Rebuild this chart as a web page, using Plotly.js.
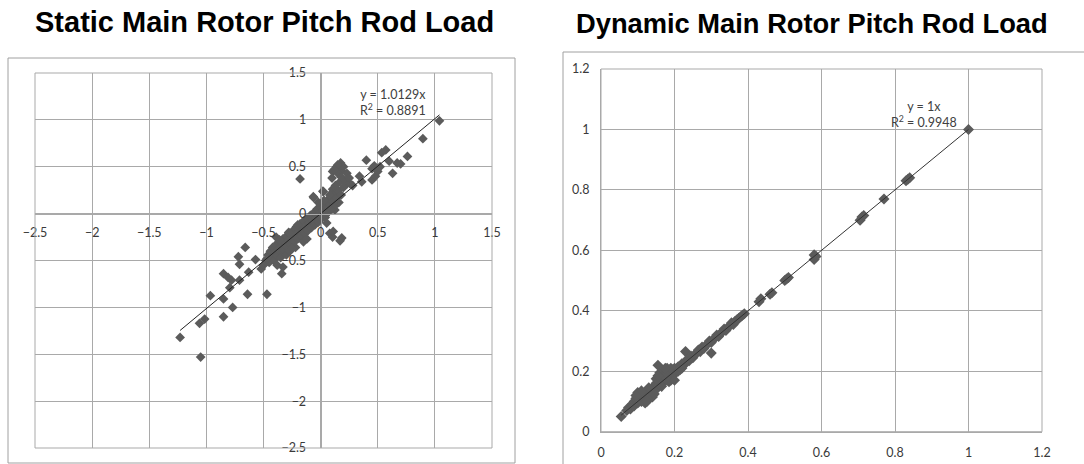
<!DOCTYPE html>
<html>
<head>
<meta charset="utf-8">
<script src="https://cdn.plot.ly/plotly-3.0.1.min.js"></script>
<style>html,body{margin:0;padding:0;background:#fff;}#chart{width:1084px;height:464px;}</style>
</head>
<body>
<div id="chart"></div>
<script>
// ---------- Static chart data ----------
const staticX = [1.04,0.895,0.76,0.70,0.63,0.67,0.60,0.57,0.535,0.52,0.47,0.45,0.40,0.36,0.34,0.175,0.14,0.105,0.18,0.23,0.23,0.17,0.105,0.02,-0.06,-0.18,0.08,0.105,0.17,0.07,0.125,0.04,
 -0.39,-0.34,-0.47,-0.52,-0.57,-0.66,-0.72,-0.71,-0.63,-0.78,-0.71,-0.85,-0.81,-0.795,-0.85,-0.64,-0.965,-0.77,-0.85,-1.015,-1.06,-1.23,-1.05,
 -0.48,-0.46,-0.45,-0.44,-0.43,-0.42,-0.41,-0.40,-0.39,-0.38,-0.37,-0.36,-0.35,-0.34,-0.33,-0.32,-0.31,-0.30,-0.29,-0.28,-0.27,-0.26,-0.25,-0.24,-0.23,-0.22,-0.21,-0.20,-0.19,-0.18,-0.17,-0.16,-0.15,-0.14,-0.13,-0.12,-0.11,-0.10,-0.09,-0.08,-0.07,-0.06,-0.05,-0.04,-0.03,-0.02,-0.01,0.00,0.01,0.02,0.03,0.04,0.05,0.06,0.07,0.08,0.09,0.10,0.11,0.12,0.13,0.14,0.15,0.16,0.18,0.20,0.22,0.13,0.10,0.15,0.18,
 -0.50,-0.47,-0.35,-0.30,-0.27,-0.22,-0.15,-0.12,-0.38,-0.33,-0.25,-0.064,0.024,0.257,0.053,0.11,0.185,-0.21,-0.27,
 0.25,0.28,0.20,0.15,0.12,0.45,0.48,0.50,0.08,0.03,-0.02,-0.36,-0.28,-0.20];
const staticY = [0.99,0.80,0.61,0.53,0.43,0.54,0.56,0.68,0.65,0.50,0.51,0.36,0.57,0.34,0.40,0.54,0.50,0.45,0.46,0.43,0.32,0.34,0.26,0.24,0.17,0.37,-0.21,-0.25,-0.29,0.07,0.04,-0.04,
 -0.25,-0.64,-0.86,-0.59,-0.49,-0.36,-0.46,-0.54,-0.625,-0.71,-0.71,-0.64,-0.68,-0.79,-0.91,-0.86,-0.875,-1.00,-1.10,-1.125,-1.17,-1.32,-1.53,
 -0.50,-0.44,-0.52,-0.40,-0.47,-0.36,-0.50,-0.42,-0.33,-0.45,-0.38,-0.30,-0.41,-0.35,-0.27,-0.39,-0.31,-0.24,-0.36,-0.28,-0.21,-0.33,-0.25,-0.18,-0.30,-0.22,-0.14,-0.27,-0.19,-0.11,-0.24,-0.16,-0.08,-0.21,-0.13,-0.05,-0.18,-0.10,-0.02,-0.15,-0.07,0.01,-0.12,-0.04,0.05,-0.09,0.00,0.08,-0.05,0.03,0.11,-0.02,0.06,0.14,0.02,0.10,0.18,0.05,0.13,0.21,0.09,0.17,0.25,0.12,0.20,0.28,0.35,0.30,0.38,0.43,0.39,
 -0.55,-0.48,-0.47,-0.44,-0.40,-0.36,-0.30,-0.27,-0.55,-0.57,-0.37,0.18,0.234,0.32,-0.10,-0.19,-0.26,-0.14,-0.21,
 0.38,0.30,0.50,0.52,0.47,0.48,0.40,0.45,0.20,0.14,0.12,-0.28,-0.20,-0.12];
const staticSlope = 1.0129;
const staticR2 = 0.8891;

// ---------- Dynamic chart data ----------
const dynX = [0.055,0.07,0.075,0.08,0.085,0.09,0.09,0.095,0.10,0.10,0.105,0.11,0.11,0.115,0.12,0.12,0.125,0.13,0.13,0.135,0.14,0.14,0.145,0.15,0.15,0.155,0.155,0.16,0.16,0.165,0.17,0.17,0.175,0.18,0.18,0.185,0.19,0.19,0.195,0.20,0.20,0.205,0.21,0.215,0.22,0.225,0.23,0.23,0.235,0.24,0.245,0.25,0.255,0.26,0.265,0.27,0.275,0.28,0.285,0.29,0.295,0.30,0.30,0.305,0.31,0.315,0.32,0.325,0.33,0.335,0.34,0.345,0.35,0.355,0.36,0.365,0.37,0.375,0.38,0.385,0.39,0.43,0.435,0.46,0.465,0.50,0.505,0.51,0.58,0.58,0.585,0.705,0.71,0.715,0.77,0.83,0.835,0.84,1.0,
 0.10,0.11,0.12,0.13,0.14,0.15,0.16,0.165,0.17,0.18,0.185,0.19,0.20,0.175,0.095,0.125,0.145,0.155,0.21,0.22];
const dynY = [0.05,0.07,0.08,0.075,0.09,0.085,0.10,0.11,0.095,0.12,0.105,0.125,0.10,0.115,0.11,0.13,0.12,0.115,0.135,0.125,0.13,0.145,0.14,0.16,0.14,0.22,0.17,0.18,0.155,0.19,0.165,0.20,0.18,0.21,0.17,0.195,0.19,0.17,0.205,0.19,0.21,0.20,0.215,0.205,0.225,0.22,0.265,0.23,0.24,0.235,0.25,0.245,0.255,0.26,0.27,0.265,0.28,0.275,0.285,0.29,0.30,0.26,0.295,0.305,0.31,0.32,0.315,0.325,0.33,0.34,0.335,0.345,0.35,0.36,0.355,0.365,0.37,0.375,0.38,0.385,0.39,0.43,0.44,0.455,0.46,0.50,0.505,0.51,0.585,0.57,0.58,0.70,0.71,0.715,0.77,0.83,0.835,0.84,1.0,
 0.13,0.135,0.095,0.145,0.115,0.175,0.195,0.15,0.185,0.19,0.165,0.21,0.17,0.21,0.12,0.10,0.125,0.185,0.20,0.21];
const dynSlope = 1;
const dynR2 = 0.9948;

// ---------- Axis setup ----------
const staticXRange = [-2.5, 1.5], staticYRange = [-2.5, 1.5];
const dynXRange = [0, 1.2], dynYRange = [0, 1.2];

const W = 1084, H = 464;
const px = v => v / W, py = v => (H - v) / H;
const dom1x = [px(35), px(492)], dom1y = [py(448), py(73)];
const dom2x = [px(601), px(1042)], dom2y = [py(431.7), py(69)];

function frac(range, dom, v){ return dom[0] + (v - range[0])/(range[1]-range[0])*(dom[1]-dom[0]); }

const markerColor = '#5b5b5b';
const gridColor = '#a9a9a9';
const tickFont = {family:'Lato, "Open Sans", sans-serif', size:12.5, color:'#3a3a3a'};

const sMin = Math.min(...staticX), sMax = Math.max(...staticX);
const dMin = Math.min(...dynX), dMax = Math.max(...dynX);

const traces = [
  {type:'scatter', mode:'markers', x:staticX, y:staticY, xaxis:'x', yaxis:'y',
   marker:{symbol:'diamond', size:7.5, color:markerColor}},
  {type:'scatter', mode:'lines', x:[sMin, sMax], y:[sMin*staticSlope, sMax*staticSlope], xaxis:'x', yaxis:'y',
   line:{color:'#222', width:1}},
  {type:'scatter', mode:'markers', x:dynX, y:dynY, xaxis:'x2', yaxis:'y2',
   marker:{symbol:'diamond', size:8.5, color:markerColor}},
  {type:'scatter', mode:'lines', x:[dMin, dMax], y:[dMin*dynSlope, dMax*dynSlope], xaxis:'x2', yaxis:'y2',
   line:{color:'#333', width:1}}
];

const axisCommon = {showgrid:true, gridcolor:gridColor, gridwidth:1, zeroline:false, ticks:'', tickfont:tickFont, fixedrange:true};

const layout = {
  width:W, height:H, margin:{l:0,r:0,t:0,b:0}, showlegend:false,
  paper_bgcolor:'#fff', plot_bgcolor:'#fff',
  xaxis: Object.assign({}, axisCommon, {domain:dom1x, range:staticXRange, dtick:0.5, anchor:'free',
    position: frac(staticYRange, dom1y, 0), showline:true, linecolor:gridColor, linewidth:1, ticklabelstandoff:7}),
  yaxis: Object.assign({}, axisCommon, {domain:dom1y, range:staticYRange, dtick:0.5, anchor:'free',
    position: frac(staticXRange, dom1x, 0), showline:true, linecolor:gridColor, linewidth:1, ticklabelstandoff:12}),
  xaxis2: Object.assign({}, axisCommon, {domain:dom2x, range:dynXRange, dtick:0.2, anchor:'y2',
    showline:true, linecolor:gridColor, ticklabelstandoff:9}),
  yaxis2: Object.assign({}, axisCommon, {domain:dom2y, range:dynYRange, dtick:0.2, anchor:'x2',
    showline:true, linecolor:gridColor, ticklabelstandoff:8}),
  shapes:[
    {type:'rect', xref:'x domain', yref:'y domain', x0:0, x1:1, y0:0, y1:1, line:{color:gridColor, width:1}},
    {type:'rect', xref:'x2 domain', yref:'y2 domain', x0:0, x1:1, y0:0, y1:1, line:{color:gridColor, width:1}},
    {type:'rect', xref:'paper', yref:'paper', x0:px(8), x1:px(515), y0:py(463), y1:py(58), line:{color:'#a0a0a0', width:1}},
    {type:'rect', xref:'paper', yref:'paper', x0:px(563), x1:px(1090), y0:py(470), y1:py(52), line:{color:'#a0a0a0', width:1}}
  ],
  annotations:[
    {text:'<b>Static Main Rotor Pitch Rod Load</b>', xref:'paper', yref:'paper', x:px(264), y:py(22), showarrow:false,
     xanchor:'center', yanchor:'middle', font:{family:'"Liberation Sans", Arial, sans-serif', size:29, color:'#000'}},
    {text:'<b>Dynamic Main Rotor Pitch Rod Load</b>', xref:'paper', yref:'paper', x:px(812), y:py(24), showarrow:false,
     xanchor:'center', yanchor:'middle', font:{family:'"Liberation Sans", Arial, sans-serif', size:27.3, color:'#000'}},
    {text:'y = ' + staticSlope + 'x<br>R<sup>2</sup> = ' + staticR2, xref:'paper', yref:'paper', x:px(393), y:py(102), showarrow:false,
     xanchor:'center', yanchor:'middle', align:'center', font:{family:'Lato, sans-serif', size:12.5, color:'#404040'}},
    {text:'y = ' + dynSlope + 'x<br>R<sup>2</sup> = ' + dynR2, xref:'paper', yref:'paper', x:px(924), y:py(115), showarrow:false,
     xanchor:'center', yanchor:'middle', align:'center', font:{family:'Lato, sans-serif', size:12.5, color:'#404040'}}
  ]
};

Plotly.newPlot('chart', traces, layout, {displayModeBar:false, staticPlot:true});
</script>
</body>
</html>
